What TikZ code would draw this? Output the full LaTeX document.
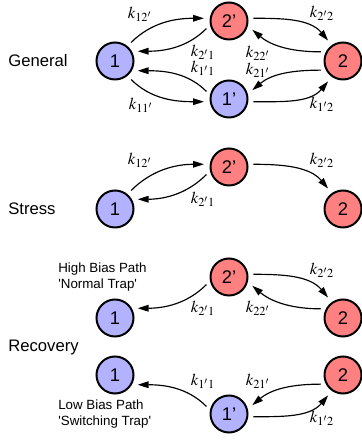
\documentclass[tikz,border=0pt]{standalone}
\usepackage{mathptmx}
\usepackage{fontspec}
\setmainfont{Liberation Sans}
\definecolor{lila}{RGB}{178,178,255}
\definecolor{rosa}{RGB}{255,128,128}
\usetikzlibrary{arrows.meta,positioning}

\begin{document}
\begin{tikzpicture}[x=0.6pt,y=0.6pt,
    estado/.style={circle,draw=black,line width=1.2pt,minimum size=22.2pt,
                   inner sep=0pt,font=\fontsize{11}{13}\selectfont},
    azulst/.style={estado,fill=lila},
    rojost/.style={estado,fill=rosa},
    tasa/.style={-{Triangle[length=6.5pt,width=4pt]},line width=0.7pt,
                 shorten <=3pt,shorten >=3.5pt},
    fase/.style={anchor=west,inner sep=0pt,font=\fontsize{10}{12}\selectfont},
    ruta/.style={anchor=west,align=left,inner sep=0pt,
                 font=\fontsize{8}{9.6}\selectfont}]
      \useasboundingbox (0,0) rectangle (361,441);

      % General
      \node[fase] (gen) at (8,380) {General};
      \node[azulst] (n1)  at (115,380) {1};
      \node[rojost] (n2p) at (229,420) {2'};
      \node[rojost] (n2)  at (343,380) {2};
      \node[azulst] (n1p) at (229,342) {1'};

      \draw[tasa] (n1.50)   to[out=45,in=180]   (n2p.172);
      \draw[tasa] (n2p.192) to[out=225,in=0]    (n1.30);
      \draw[tasa] (n1p.168) to[out=135,in=0]    (n1.-30);
      \draw[tasa] (n1.-50)  to[out=-45,in=180]  (n1p.188);
      \draw[tasa] (n2p.8)   to[out=0,in=130]    (n2.125);
      \draw[tasa] (n2.152)  to[out=180,in=-40]  (n2p.-15);
      \draw[tasa] (n2.-152) to[out=180,in=40]   (n1p.15);
      \draw[tasa] (n1p.-8)  to[out=0,in=-130]   (n2.-125);

      \node (g12p) at (140,427) {$k_{12'}$};
      \node (g2p1) at (203,389) {$k_{2'1}$};
      \node (g1p1) at (203,373) {$k_{1'1}$};
      \node (g11p) at (141,336) {$k_{11'}$};
      \node (g2p2) at (322,428) {$k_{2'2}$};
      \node (g22p) at (258,388) {$k_{22'}$};
      \node (g21p) at (258,371) {$k_{21'}$};
      \node (g1p2) at (322,337) {$k_{1'2}$};

      % Stress
      \node[fase] (str) at (8,232) {Stress};
      \node[azulst] (s1)  at (115,232) {1};
      \node[rojost] (s2p) at (229,274) {2'};
      \node[rojost] (s2)  at (343,232) {2};

      \draw[tasa] (s1.50)   to[out=45,in=180]   (s2p.172);
      \draw[tasa] (s2p.192) to[out=225,in=0]    (s1.30);
      \draw[tasa] (s2p.8)   to[out=0,in=130]    (s2.125);

      \node (s12p) at (140,281) {$k_{12'}$};
      \node (s2p1) at (203,242) {$k_{2'1}$};
      \node (s2p2) at (322,281) {$k_{2'2}$};

      % Recovery
      \node[fase] (rec) at (8,94) {Recovery};
      \node[ruta] (alta) at (58,164) {High Bias Path\\\textquotesingle Normal Trap\textquotesingle};
      \node[ruta] (baja) at (58,27) {Low Bias Path\\\textquotesingle Switching Trap\textquotesingle};

      \node[rojost] (r2p) at (229,164) {2'};
      \node[azulst] (r1a) at (115,123) {1};
      \node[rojost] (r2a) at (343,123) {2};
      \node[azulst] (r1b) at (115,66)  {1};
      \node[rojost] (r2b) at (343,66)  {2};
      \node[azulst] (r1p) at (229,27)  {1'};

      \draw[tasa] (r2p.192) to[out=225,in=0]    (r1a.30);
      \draw[tasa] (r2p.8)   to[out=0,in=130]    (r2a.125);
      \draw[tasa] (r2a.152) to[out=180,in=-40]  (r2p.-15);
      \draw[tasa] (r1p.168) to[out=135,in=0]    (r1b.-30);
      \draw[tasa] (r2b.-152) to[out=180,in=40]  (r1p.15);
      \draw[tasa] (r1p.-8)  to[out=0,in=-130]   (r2b.-125);

      \node (r2p2) at (322,171) {$k_{2'2}$};
      \node (r2p1) at (203,133) {$k_{2'1}$};
      \node (r22p) at (258,133) {$k_{22'}$};
      \node (r1p1) at (203,60)  {$k_{1'1}$};
      \node (r21p) at (258,60)  {$k_{21'}$};
      \node (r1p2) at (322,23)  {$k_{1'2}$};
\end{tikzpicture}
\end{document}
